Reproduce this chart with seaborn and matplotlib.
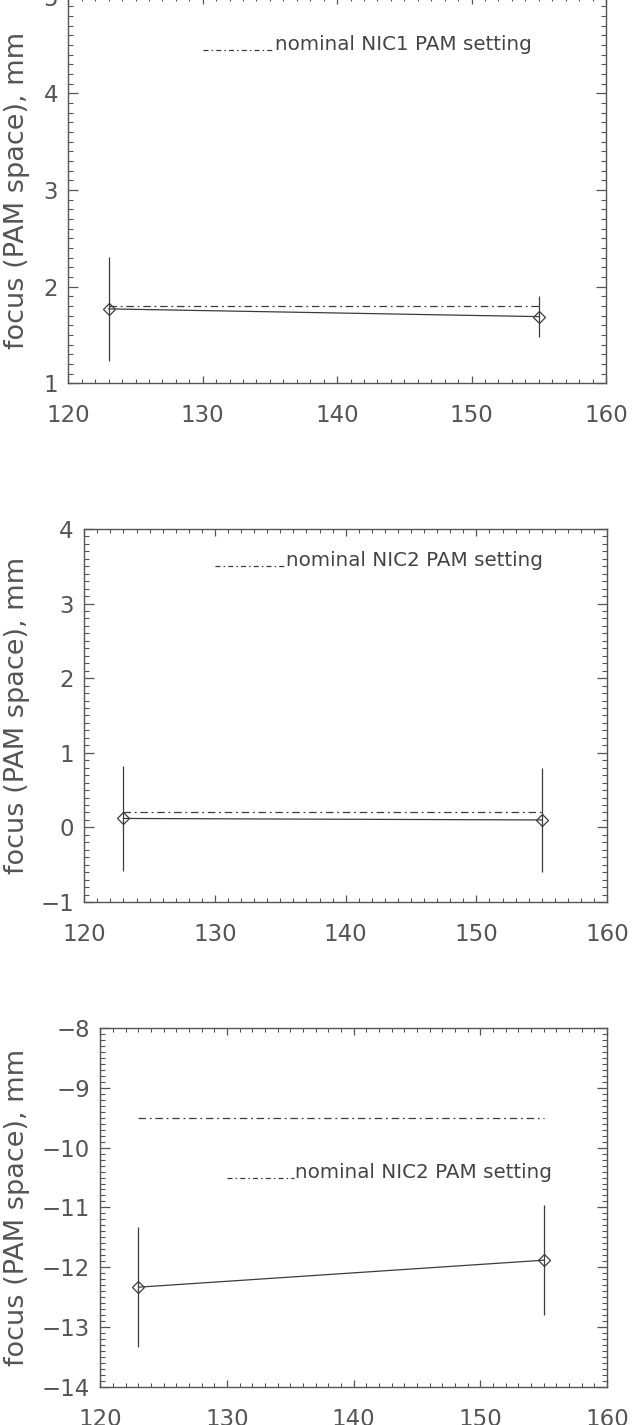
import matplotlib
matplotlib.use("Agg")
import matplotlib.pyplot as plt
import seaborn as sns
from matplotlib.ticker import MultipleLocator

# Datos (tres paneles)
temps = [123, 155]

focus_nic1 = [1.77, 1.69]
err_nic1 = [0.54, 0.21]
nominal_nic1 = 1.80

focus_nic2 = [0.12, 0.10]
err_nic2 = [0.70, 0.70]
nominal_nic2 = 0.20

focus_nic3 = [-12.33, -11.88]
err_nic3 = [1.00, 0.92]
nominal_nic3 = -9.50

legend_labels = ["nominal NIC1 PAM setting", "nominal NIC2 PAM setting", "nominal NIC2 PAM setting"]
ylims = [(1, 5), (-1, 4), (-14, -8)]
legend_y = [4.45, 3.5, -10.5]

sns.set_style("ticks")
plt.rcParams["font.family"] = ["DejaVu Sans"]

gris = "#555555"
linea = "#3c3c3c"

fig = plt.figure(figsize=(6.36, 14.25), dpi=100)
posiciones = [
    [0.1074, 0.7310, 0.8454, 0.2714],
    [0.1325, 0.3670, 0.8220, 0.2618],
    [0.1580, 0.0265, 0.7964, 0.2523],
]
label_x = [-0.071, -0.103, -0.14]

paneles = [
    (focus_nic1, err_nic1, nominal_nic1),
    (focus_nic2, err_nic2, nominal_nic2),
    (focus_nic3, err_nic3, nominal_nic3),
]

for i, (valores, errores, nominal) in enumerate(paneles):
    ax = fig.add_axes(posiciones[i])

    # linea de datos con marcadores de diamante
    sns.lineplot(x=temps, y=valores, ax=ax, color=linea, linewidth=0.9,
                 marker="D", markersize=6, markerfacecolor="none",
                 markeredgecolor=linea, markeredgewidth=0.9)
    ax.errorbar(temps, valores, yerr=errores, fmt="none", ecolor=linea,
                elinewidth=0.9, capsize=0)

    # valor nominal
    sns.lineplot(x=temps, y=[nominal, nominal], ax=ax, color=linea,
                 linewidth=0.9, linestyle=(0, (6, 3, 1.5, 3)))

    # leyenda manual
    ax.plot([130, 135.3], [legend_y[i], legend_y[i]], color=linea,
            linewidth=0.9, linestyle=(0, (4, 2.5, 1.2, 2.5)))
    ax.text(135.4, legend_y[i], legend_labels[i], fontsize=14.3,
            color="#444444", va="baseline", ha="left")

    ax.set_xlim(120, 160)
    ax.set_ylim(*ylims[i])
    ax.xaxis.set_major_locator(MultipleLocator(10))
    ax.xaxis.set_minor_locator(MultipleLocator(1))
    ax.yaxis.set_major_locator(MultipleLocator(1))
    ax.yaxis.set_minor_locator(MultipleLocator(0.1))

    ax.tick_params(axis="both", which="both", direction="in",
                   top=True, right=True, colors=gris, labelcolor=gris)
    ax.tick_params(axis="x", which="major", length=5, width=0.9, pad=15, labelsize=16.5)
    ax.tick_params(axis="x", which="minor", length=3, width=0.8)
    ax.tick_params(axis="y", which="major", length=7, width=0.9, pad=7.5, labelsize=16.5)
    ax.tick_params(axis="y", which="minor", length=3.5, width=0.8)

    for spine in ax.spines.values():
        spine.set_color(gris)
        spine.set_linewidth(1.0)

    ax.set_ylabel("focus (PAM space), mm", fontsize=19.5, color=gris)
    ax.yaxis.set_label_coords(label_x[i], 0.5)
    ax.set_xlabel("")

fig.savefig("out.png", dpi=100, facecolor="white")
